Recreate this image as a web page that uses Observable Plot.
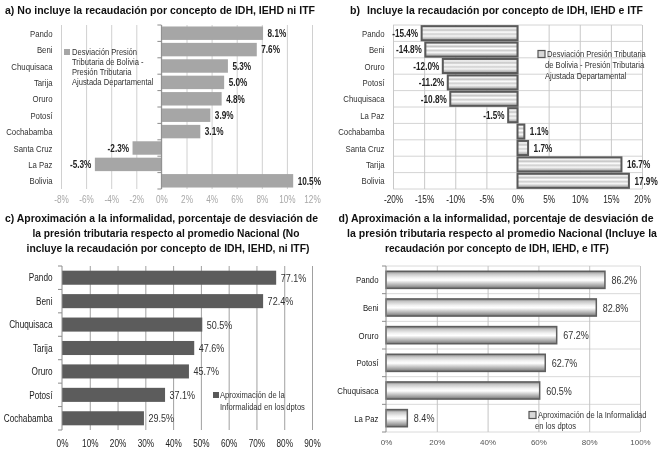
<!DOCTYPE html>
<html><head><meta charset="utf-8">
<script src="https://cdn.jsdelivr.net/npm/d3@7"></script>
<script src="https://cdn.jsdelivr.net/npm/@observablehq/plot@0.6"></script>
<style>
body{margin:0;background:#fff}
#wrap{position:relative;width:664px;height:450px;overflow:hidden;background:#fff}
#wrap > svg{position:absolute;will-change:transform}
</style></head><body><div id="wrap"></div>
<script>
// ---- data ----
const catsA = ["Pando","Beni","Chuquisaca","Tarija","Oruro","Potosí","Cochabamba","Santa Cruz","La Paz","Bolivia"];
const valsA = [8.1,7.6,5.3,5.0,4.8,3.9,3.1,-2.3,-5.3,10.5];
const ticksA = [-8,-6,-4,-2,0,2,4,6,8,10,12];

const catsB = ["Pando","Beni","Oruro","Potosí","Chuquisaca","La Paz","Cochabamba","Santa Cruz","Tarija","Bolivia"];
const valsB = [-15.4,-14.8,-12.0,-11.2,-10.8,-1.5,1.1,1.7,16.7,17.9];
const ticksB = [-20,-15,-10,-5,0,5,10,15,20];

const catsC = ["Pando","Beni","Chuquisaca","Tarija","Oruro","Potosí","Cochabamba"];
const valsC = [77.1,72.4,50.5,47.6,45.7,37.1,29.5];
const ticksC = [0,10,20,30,40,50,60,70,80,90];

const catsD = ["Pando","Beni","Oruro","Potosí","Chuquisaca","La Paz"];
const valsD = [86.2,82.8,67.2,62.7,60.5,8.4];
const ticksD = [0,20,40,60,80,100];

const titleA = "a)  No incluye la recaudación por concepto de IDH, IEHD ni ITF";
const titleB = ["b)", "Incluye la recaudación por concepto de IDH, IEHD e ITF"];
const titleC = ["c)  Aproximación a la informalidad, porcentaje de desviación de",
                "la presión tributaria respecto al promedio Nacional (No",
                "incluye la recaudación por concepto de IDH, IEHD, ni ITF)"];
const titleD = ["d) Aproximación a la informalidad, porcentaje de desviación de",
                "la presión tributaria respecto al promedio Nacional (Incluye la",
                "recaudación por concepto de IDH, IEHD, e ITF)"];
const legendA = ["Desviación  Presión","Tributaria de Bolivia  -","Presión Tributaria","Ajustada Departamental"];
const legendB = ["Desviación  Presión Tributaria","de Bolivia  -  Presión Tributaria","Ajustada Departamental"];
const legendC = ["Aproximación de la","Informalidad  en los dptos"];
const legendD = ["Aproximación de la Informalidad","en los dptos"];

// ---- helpers ----
const SANS = "'Liberation Sans',Arial,Helvetica,sans-serif";
const SANS2 = "Arial,'Liberation Sans',sans-serif";
const fmt = v => v.toFixed(1) + "%";
const wrap = document.getElementById("wrap");

function catAxis(n, xval, stroke) {
  return (index, scales, values, dims) => {
    const x0 = scales.x(xval);
    const t = dims.marginTop, b = dims.height - dims.marginBottom, s = (b - t) / n;
    const g = d3.create("svg:g").attr("stroke", stroke).attr("stroke-width", 1);
    g.append("line").attr("x1", x0).attr("x2", x0).attr("y1", t).attr("y2", b);
    for (let k = 0; k <= n; k++)
      g.append("line").attr("x1", x0 - 4).attr("x2", x0).attr("y1", t + k * s).attr("y2", t + k * s);
    return g.node();
  };
}
function bandGrid(n, stroke) {
  return (index, scales, values, dims) => {
    const t = dims.marginTop, b = dims.height - dims.marginBottom, s = (b - t) / n;
    const l = dims.marginLeft, r = dims.width - dims.marginRight;
    const g = d3.create("svg:g").attr("stroke", stroke).attr("stroke-width", 1);
    for (let k = 0; k <= n; k++)
      g.append("line").attr("x1", l).attr("x2", r).attr("y1", t + k * s).attr("y2", t + k * s);
    return g.node();
  };
}
// simulate a narrow face (Arial Narrow) by compressing glyphs horizontally
function condense(root, f) {
  root.querySelectorAll("text").forEach(t => {
    const fam = t.closest("[font-family]");
    if (fam && fam.getAttribute("font-family") === SANS2) return;
    const L = t.getComputedTextLength();
    if (L > 0) { t.setAttribute("textLength", L * f); t.setAttribute("lengthAdjust", "spacingAndGlyphs"); }
  });
}
function place(svg, left, top) {
  svg.style.left = left + "px"; svg.style.top = top + "px";
  wrap.appendChild(svg);
  condense(svg, 0.82);
}

// ---- overlay defs first (gradients) ----
const over = d3.create("svg").attr("width", 664).attr("height", 450)
  .style("position", "absolute").style("left", "0px").style("top", "0px").style("pointer-events", "none");
const defs = over.append("defs");
const gB = defs.append("linearGradient").attr("id", "gradB").attr("x1", 0).attr("y1", 0).attr("x2", 0).attr("y2", 1);
[[0,"#bdbdbd"],[0.14,"#f4f4f4"],[0.28,"#c4c4c4"],[0.42,"#ffffff"],[0.56,"#cfcfcf"],[0.7,"#f6f6f6"],[0.85,"#c2c2c2"],[1,"#9e9e9e"]]
  .forEach(([o,c]) => gB.append("stop").attr("offset", o).attr("stop-color", c));
const gD = defs.append("linearGradient").attr("id", "gradD").attr("x1", 0).attr("y1", 0).attr("x2", 0).attr("y2", 1);
[[0,"#7a7a7a"],[0.15,"#c6c6c6"],[0.38,"#f2f2f2"],[0.52,"#ffffff"],[0.68,"#d2d2d2"],[0.88,"#9a9a9a"],[1,"#6e6e6e"]]
  .forEach(([o,c]) => gD.append("stop").attr("offset", o).attr("stop-color", c));
wrap.appendChild(over.node());

const baseStyle = {fontFamily: SANS, fontSize: "9px", background: "transparent", overflow: "visible"};

// ---- panel a ----
const dataA = catsA.map((c, i) => ({c, v: valsA[i]}));
const plotA = Plot.plot({
  width: 332, height: 215, marginTop: 25, marginBottom: 26, marginLeft: 61, marginRight: 20,
  style: baseStyle,
  x: {domain: [-8, 12], label: null},
  y: {domain: catsA, paddingInner: 0.18, paddingOuter: 0.09, label: null, round: false},
  marks: [
    Plot.ruleX(ticksA, {stroke: "#d0d0d0", strokeOpacity: 1}),
    Plot.barX(dataA, {x: "v", y: "c", fill: "#a6a6a6"}),
    catAxis(catsA.length, 0, "#8c8c8c"),
    Plot.axisX({ticks: ticksA, tickSize: 0, tickPadding: 6, tickFormat: d => d + "%", fill: "#a8a8a8", fontSize: 10}),
    Plot.axisY({tickSize: 0, tickPadding: 9, fill: "#333", fontSize: 9.5}),
    Plot.text(dataA.filter(d => d.v >= 0), {x: "v", y: "c", text: d => fmt(d.v), textAnchor: "start", dx: 4, fontWeight: "bold", fill: "#222", fontSize: 10}),
    Plot.text(dataA.filter(d => d.v < 0), {x: "v", y: "c", text: d => fmt(d.v), textAnchor: "end", dx: -4, fontWeight: "bold", fill: "#222", fontSize: 10})
  ]
});
place(plotA, 0, 0);

// ---- panel b ----
const dataB = catsB.map((c, i) => ({c, v: valsB[i]}));
const plotB = Plot.plot({
  width: 332, height: 215, marginTop: 25, marginBottom: 26, marginLeft: 61, marginRight: 22,
  style: baseStyle,
  x: {domain: [-20, 20], label: null},
  y: {domain: catsB, paddingInner: 0.14, paddingOuter: 0.07, label: null, round: false},
  marks: [
    bandGrid(catsB.length, "#d4d4d4"),
    Plot.ruleX(ticksB, {stroke: "#c8c8c8", strokeOpacity: 1}),
    Plot.barX(dataB, {x: "v", y: "c", fill: "url(#gradB)", stroke: "#595959", strokeWidth: 2}),
    Plot.axisX({ticks: ticksB, tickSize: 0, tickPadding: 6, tickFormat: d => d + "%", fill: "#222", fontSize: 10}),
    Plot.axisY({tickSize: 0, tickPadding: 9, fill: "#333", fontSize: 9.5}),
    Plot.text(dataB.filter(d => d.v >= 0), {x: "v", y: "c", text: d => fmt(d.v), textAnchor: "start", dx: 5, fontWeight: "bold", fill: "#222", fontSize: 10}),
    Plot.text(dataB.filter(d => d.v < 0), {x: "v", y: "c", text: d => fmt(d.v), textAnchor: "end", dx: -4, fontWeight: "bold", fill: "#222", fontSize: 10})
  ]
});
place(plotB, 332, 0);

// ---- panel c ----
const dataC = catsC.map((c, i) => ({c, v: valsC[i]}));
const plotC = Plot.plot({
  width: 332, height: 225, marginTop: 41, marginBottom: 20, marginLeft: 62, marginRight: 20,
  style: baseStyle,
  x: {domain: [0, 90], label: null},
  y: {domain: catsC, paddingInner: 0.4, paddingOuter: 0.2, label: null, round: false},
  marks: [
    Plot.ruleX(ticksC.filter(d => d > 0), {stroke: "#a0a0a0", strokeOpacity: 1}),
    Plot.barX(dataC, {x: "v", y: "c", fill: "#5c5c5c"}),
    catAxis(catsC.length, 0, "#8c8c8c"),
    Plot.axisX({ticks: ticksC, tickSize: 0, tickPadding: 9, tickFormat: d => d + "%", fill: "#222", fontSize: 10}),
    Plot.axisY({tickSize: 0, tickPadding: 10, fill: "#222", fontSize: 10}),
    Plot.text(dataC, {x: "v", y: "c", text: d => fmt(d.v), textAnchor: "start", dx: 4, fill: "#333", fontSize: 11})
  ]
});
place(plotC, 0, 225);

// ---- panel d ----
const dataD = catsD.map((c, i) => ({c, v: valsD[i]}));
const plotD = Plot.plot({
  width: 332, height: 225, marginTop: 41, marginBottom: 18, marginLeft: 54, marginRight: 24,
  style: baseStyle,
  x: {domain: [0, 100], label: null},
  y: {domain: catsD, paddingInner: 0.38, paddingOuter: 0.19, label: null, round: false},
  marks: [
    bandGrid(catsD.length, "#dadada"),
    Plot.ruleX(ticksD.filter(d => d > 0), {stroke: "#c4c4c4", strokeOpacity: 1}),
    Plot.barX(dataD, {x: "v", y: "c", fill: "url(#gradD)", stroke: "#5e5e5e", strokeWidth: 1.5}),
    catAxis(catsD.length, 0, "#8c8c8c"),
    Plot.axisX({ticks: ticksD, tickSize: 0, tickPadding: 7, tickFormat: d => d + "%", fill: "#555", fontSize: 8, fontFamily: SANS2}),
    Plot.axisY({tickSize: 0, tickPadding: 8, fill: "#222", fontSize: 9.5}),
    Plot.text(dataD, {x: "v", y: "c", text: d => fmt(d.v), textAnchor: "start", dx: 6, fill: "#333", fontSize: 11})
  ]
});
place(plotD, 332, 225);

// overlay on top
wrap.appendChild(over.node());

// ---- overlay: titles and legends ----
function title(t, x, y, len, anchor = "start") {
  over.append("text").attr("x", x).attr("y", y).attr("text-anchor", anchor)
    .attr("font-family", SANS).attr("font-weight", "bold").attr("font-size", 10.5)
    .attr("fill", "#111").attr("textLength", len).attr("lengthAdjust", "spacingAndGlyphs").text(t);
}
title(titleA, 5, 14, 310);
title(titleB[0], 350, 14, 10);
title(titleB[1], 367, 14, 276);
title(titleC[0], 5, 221.5, 313);
title(titleC[1], 166, 237, 267, "middle");
title(titleC[2], 168, 252, 283, "middle");
title(titleD[0], 496, 221.5, 315, "middle");
title(titleD[1], 502, 237, 310, "middle");
title(titleD[2], 497, 252, 224, "middle");

const legendGroup = over.append("g").attr("class", "legends");
function legend(lines, x, y0, dy, sw, swFill, swStroke, xFirst) {
  legendGroup.append("rect").attr("x", sw.x).attr("y", sw.y).attr("width", sw.s).attr("height", sw.s)
    .attr("fill", swFill).attr("stroke", swStroke).attr("stroke-width", swStroke ? 1.2 : 0);
  lines.forEach((t, i) => {
    legendGroup.append("text").attr("x", i === 0 ? xFirst : x).attr("y", y0 + i * dy + 3.3)
      .attr("font-family", SANS).attr("font-size", 9.5).attr("fill", "#333").text(t);
  });
}
legend(legendA, 72, 52, 10, {x: 64, y: 49, s: 6}, "#a6a6a6", null, 72);
legend(legendB, 545, 54, 11, {x: 538, y: 50.5, s: 7}, "#d8d8d8", "#555", 547);
legend(legendC, 220, 395, 12, {x: 213, y: 392, s: 6}, "#595959", null, 220);
legend(legendD, 535, 415, 11, {x: 529, y: 411.5, s: 7}, "#d8d8d8", "#555", 538);
legendGroup.selectAll("text").each(function() {
  const L = this.getComputedTextLength();
  if (L > 0) { this.setAttribute("textLength", L * 0.8); this.setAttribute("lengthAdjust", "spacingAndGlyphs"); }
});
</script></body></html>
